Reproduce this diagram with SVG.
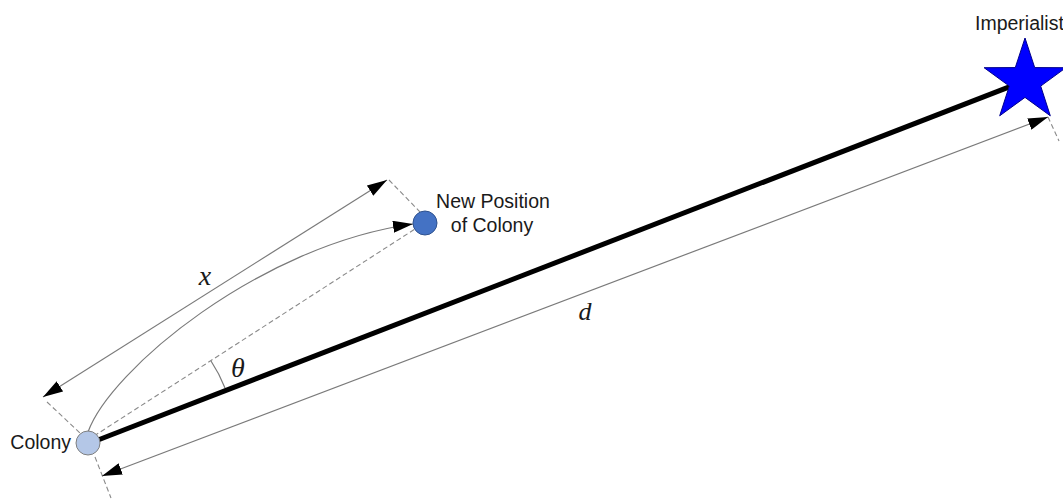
<svg xmlns="http://www.w3.org/2000/svg" width="1063" height="500" viewBox="0 0 1063 500">
<style>
.thin{fill:none;stroke:#7a7a7a;stroke-width:1.2}
.dash{fill:none;stroke:#8a8a8a;stroke-width:1.1;stroke-dasharray:5 3}
.lbl{font-family:"Liberation Sans",Arial,sans-serif;font-size:19.5px;fill:#1a1a1a}
.math{font-family:"Liberation Serif","Times New Roman",serif;font-style:italic;fill:#1a1a1a}
</style>
<defs>
<marker id="arr" viewBox="0 0 20 12" refX="20" refY="6" markerWidth="20" markerHeight="12" markerUnits="userSpaceOnUse" orient="auto-start-reverse">
<path d="M0,0 L20,6 L0,12 z" fill="#000"/>
</marker>
<marker id="arrBig" viewBox="0 0 22 16" refX="22" refY="8" markerWidth="22" markerHeight="16" markerUnits="userSpaceOnUse" orient="auto">
<path d="M0,0 L22,8 L0,16 z" fill="#000"/>
</marker>
</defs>
<g id="connectors">
<path class="dash" d="M47,402 L80,433"/>
<path class="dash" d="M95,457 L111,498"/>
<path class="dash" d="M389,180 L421,213"/>
<path class="dash" d="M1048,117 L1059,141"/>
<path class="dash" d="M94,436 L415,229"/>
<path class="thin" d="M43,397 L387,180" marker-start="url(#arr)" marker-end="url(#arr)"/>
<path class="thin" d="M102,476 L1048,117" marker-start="url(#arr)" marker-end="url(#arr)"/>
<path class="thin" d="M88,432 C110,370 260,245 413,224" marker-end="url(#arr)"/>
<path class="thin" d="M211,361 A142,142 0 0 1 225,388"/>
<path d="M98,440 L1040,75" fill="none" stroke="#000" stroke-width="5" marker-end="url(#arrBig)"/>
</g>
<g id="imperialist">
<polygon points="1025,38 1034.7,67.6 1065.9,67.7 1040.7,86.1 1050.3,115.8 1025,97.4 999.7,115.8 1009.3,86.1 984.1,67.7 1015.3,67.6" fill="#0000ff" stroke="#00008b" stroke-width="1"/>
<text class="lbl" x="975" y="30">Imperialist</text>
</g>
<g id="colony">
<circle cx="88" cy="443" r="12" fill="#b4c7e7" stroke="#7f7f7f" stroke-width="1"/>
<text class="lbl" x="71" y="449" text-anchor="end">Colony</text>
</g>
<g id="new-position">
<circle cx="425" cy="223" r="12" fill="#4472c4" stroke="#2f528f" stroke-width="1"/>
<text class="lbl" x="493" y="208" text-anchor="middle">New Position</text>
<text class="lbl" x="492" y="232" text-anchor="middle">of Colony</text>
</g>
<g id="labels">
<text class="math" x="205" y="285" font-size="28" text-anchor="middle">x</text>
<text class="math" x="585" y="320" font-size="26" text-anchor="middle">d</text>
<text class="math" x="238" y="377" font-size="28" text-anchor="middle">θ</text>
</g>
</svg>
